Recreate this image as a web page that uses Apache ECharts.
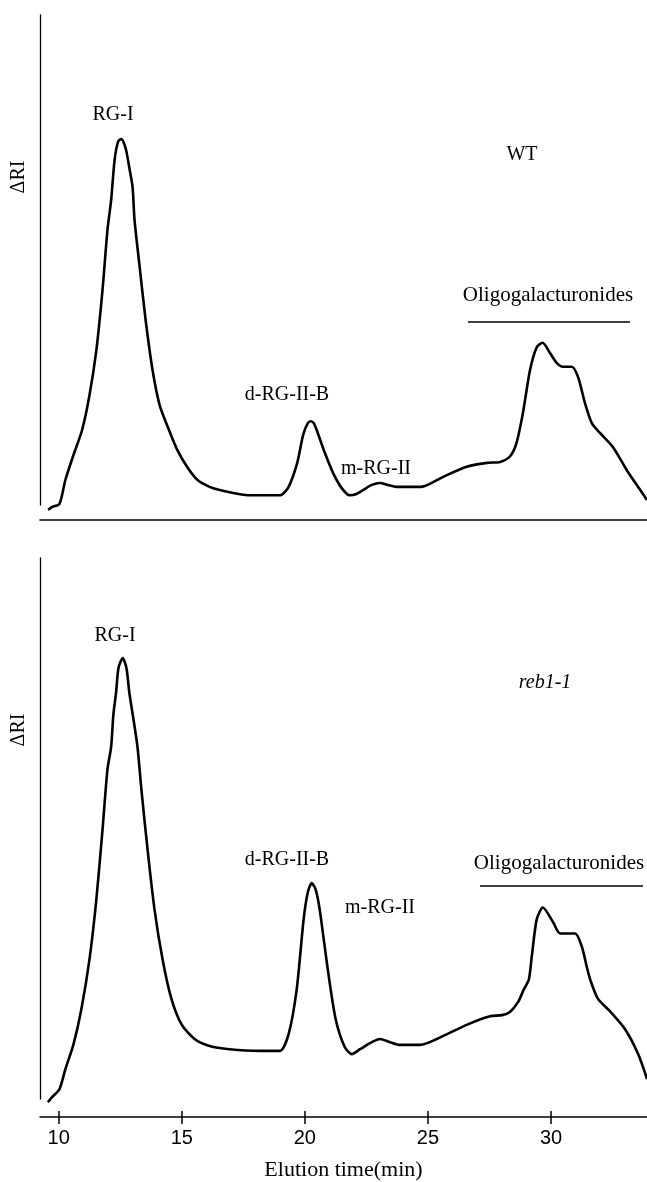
<!DOCTYPE html>
<html>
<head>
<meta charset="utf-8">
<script src="https://cdn.jsdelivr.net/npm/echarts@6/dist/echarts.min.js"></script>
<style>
  html, body { margin: 0; padding: 0; background: #fff; }
  #main { width: 647px; height: 1182px; }
</style>
</head>
<body>
<div id="main"></div>
<script>
/*#############  数据  ###############*/
var tickValues = [10, 15, 20, 25, 30];

// WT 洗脱曲线 (min, ΔRI)
var timeWT = [9.57, 9.74, 10.03, 10.27, 10.60, 10.95, 11.25, 11.53, 11.78, 11.98, 12.13, 12.27, 12.41, 12.54, 12.63, 12.74, 12.87, 13.00,
  13.08, 13.28, 13.53, 13.81, 14.10, 14.48, 14.82, 15.24, 15.64, 16.13, 16.50, 17.14, 17.67, 18.57, 19.01, 19.34, 19.69, 19.93,
  20.12, 20.24, 20.36, 20.51, 20.80, 21.15, 21.49, 21.82, 22.07, 22.38, 22.72, 23.05, 23.37, 23.72, 24.73, 25.60, 26.57, 27.40,
  27.93, 28.33, 28.60, 28.86, 29.15, 29.42, 29.66, 29.96, 30.23, 30.49, 30.84, 31.10, 31.38, 31.66, 31.99, 32.52, 33.08, 33.62, 33.90];
var riWT = [-1.0, -0.4, 0.2, 5.1, 10.2, 15.3, 22.4, 31.6, 43.9, 56.1, 62.2, 70.4, 74.1, 74.7, 74.1, 72.4, 68.8, 64.9,
  58.2, 49.0, 37.8, 27.6, 20.4, 15.3, 11.2, 7.6, 5.1, 3.7, 3.1, 2.4, 2.0, 2.0, 2.0, 3.7, 8.6, 14.3,
  16.7, 17.1, 16.7, 14.9, 10.8, 6.5, 3.5, 2.0, 2.2, 3.1, 4.1, 4.5, 4.1, 3.7, 3.7, 5.7, 7.8, 8.6,
  8.8, 9.9, 12.7, 18.8, 27.6, 32.2, 33.1, 31.0, 29.0, 28.2, 28.2, 26.1, 20.8, 16.7, 14.7, 11.8, 7.1, 3.1, 1.0];

// reb1-1 洗脱曲线 (min, ΔRI)
var timeReb = [9.56, 9.74, 10.03, 10.27, 10.60, 10.92, 11.25, 11.53, 11.78, 11.98, 12.13, 12.22, 12.33, 12.43, 12.60, 12.75, 12.87,
  13.04, 13.20, 13.36, 13.61, 13.89, 14.22, 14.58, 14.99, 15.52, 16.13, 16.94, 18.16, 18.98, 19.34, 19.67, 19.95, 20.12, 20.28,
  20.44, 20.60, 20.93, 21.25, 21.62, 21.91, 22.24, 22.72, 23.05, 23.46, 23.86, 24.67, 25.69, 26.62, 27.52, 28.01, 28.33, 28.66,
  28.90, 29.10, 29.22, 29.42, 29.67, 30.08, 30.37, 30.98, 31.25, 31.45, 31.59, 31.91, 32.40, 33.01, 33.54, 33.90];
var riReb = [-0.6, 0.4, 1.8, 5.5, 10.1, 16.6, 25.8, 36.9, 49.8, 60.9, 65.1, 71.0, 75.1, 79.7, 81.5, 79.7, 75.1,
  70.1, 65.1, 57.2, 46.1, 35.1, 25.8, 18.5, 13.8, 11.1, 9.8, 9.2, 8.9, 8.9, 12.0, 20.3, 33.2, 38.2, 39.9,
  38.7, 35.1, 24.0, 14.8, 9.6, 8.3, 9.2, 10.5, 11.1, 10.5, 10.0, 10.0, 11.8, 13.8, 15.3, 15.5, 16.1, 17.9,
  20.3, 22.1, 26.4, 33.2, 35.4, 32.7, 30.6, 30.6, 28.2, 24.5, 22.1, 18.5, 16.2, 12.9, 8.3, 3.7, 1.3];

function pairs(xs, ys) {
  var out = [];
  for (var i = 0; i < xs.length; i++) out.push([xs[i], ys[i]]);
  return out;
}

var serif = '"Liberation Serif", "Times New Roman", serif';
var sans = '"Liberation Sans", Arial, sans-serif';

function label(text, x, y, font, rot) {
  return {
    type: 'text', x: x, y: y, rotation: rot || 0, z: 100,
    style: { text: text, x: 0, y: 0, fill: '#000', font: font || '20px ' + serif, textAlign: 'center', textVerticalAlign: 'middle' }
  };
}
function hline(x1, x2, y) {
  return { type: 'line', shape: { x1: x1, y1: y, x2: x2, y2: y }, style: { stroke: '#000', lineWidth: 1.5 }, z: 100 };
}

var dom = document.getElementById('main');
var myChart = echarts.init(dom, null, { renderer: 'canvas' });

var xBase = { type: 'value', min: 9.24, max: 33.9, splitLine: { show: false }, position: 'bottom' };
var axisLine = { show: true, onZero: false, lineStyle: { color: '#000', width: 1.5 } };

var option = {
  backgroundColor: '#fff',
  animation: false,
  grid: [
    { left: 40, right: 0, top: 15, height: 490 },
    { left: 40, right: 0, top: 558, height: 542 }
  ],
  xAxis: [
    Object.assign({}, xBase, { gridIndex: 0, offset: 15, axisLine: axisLine, axisTick: { show: false }, axisLabel: { show: false } }),
    Object.assign({}, xBase, {
      gridIndex: 1, offset: 18, axisLine: axisLine,
      axisTick: { show: true, inside: false, length: 7, customValues: tickValues, lineStyle: { color: '#000', width: 1.5 } },
      axisLabel: { show: true, customValues: tickValues, margin: 11, color: '#000', fontFamily: sans, fontSize: 20 },
      name: 'Elution time(min)', nameLocation: 'middle', nameGap: 42,
      nameTextStyle: { color: '#000', fontFamily: serif, fontSize: 22 }
    }),
    Object.assign({}, xBase, {
      gridIndex: 1, offset: 18, axisLine: { show: false, onZero: false },
      axisTick: { show: true, inside: true, length: 6, customValues: tickValues, lineStyle: { color: '#000', width: 1.5 } },
      axisLabel: { show: false }
    })
  ],
  yAxis: [
    { type: 'value', gridIndex: 0, min: 0, max: 100, axisLine: { show: true, onZero: false, lineStyle: { color: '#000', width: 1.3 } },
      axisTick: { show: false }, axisLabel: { show: false }, splitLine: { show: false } },
    { type: 'value', gridIndex: 1, min: 0, max: 100, axisLine: { show: true, onZero: false, lineStyle: { color: '#000', width: 1.3 } },
      axisTick: { show: false }, axisLabel: { show: false }, splitLine: { show: false } }
  ],
  series: [
    { name: 'WT', type: 'line', xAxisIndex: 0, yAxisIndex: 0, data: pairs(timeWT, riWT), showSymbol: false,
      smooth: 0.25, clip: false, lineStyle: { color: '#000', width: 2.6 } },
    { name: 'reb1-1', type: 'line', xAxisIndex: 1, yAxisIndex: 1, data: pairs(timeReb, riReb), showSymbol: false,
      smooth: 0.25, clip: false, lineStyle: { color: '#000', width: 2.6 } }
  ],
  graphic: [
    // 上图标注
    label('ΔRI', 19, 177, null, Math.PI / 2),
    label('RG-I', 113, 115),
    label('WT', 522, 155),
    label('d-RG-II-B', 287, 395),
    label('m-RG-II', 376, 469),
    label('Oligogalacturonides', 548, 295, '21px ' + serif),
    hline(468, 630, 322),
    // 下图标注
    label('ΔRI', 19, 730, null, Math.PI / 2),
    label('RG-I', 115, 636),
    label('reb1-1', 545, 683, 'italic 20px ' + serif),
    label('d-RG-II-B', 287, 860),
    label('m-RG-II', 380, 908),
    label('Oligogalacturonides', 559, 863, '21px ' + serif),
    hline(480, 643, 886)
  ]
};

if (option && typeof option === 'object') {
  myChart.setOption(option, true);
}
</script>
</body>
</html>
